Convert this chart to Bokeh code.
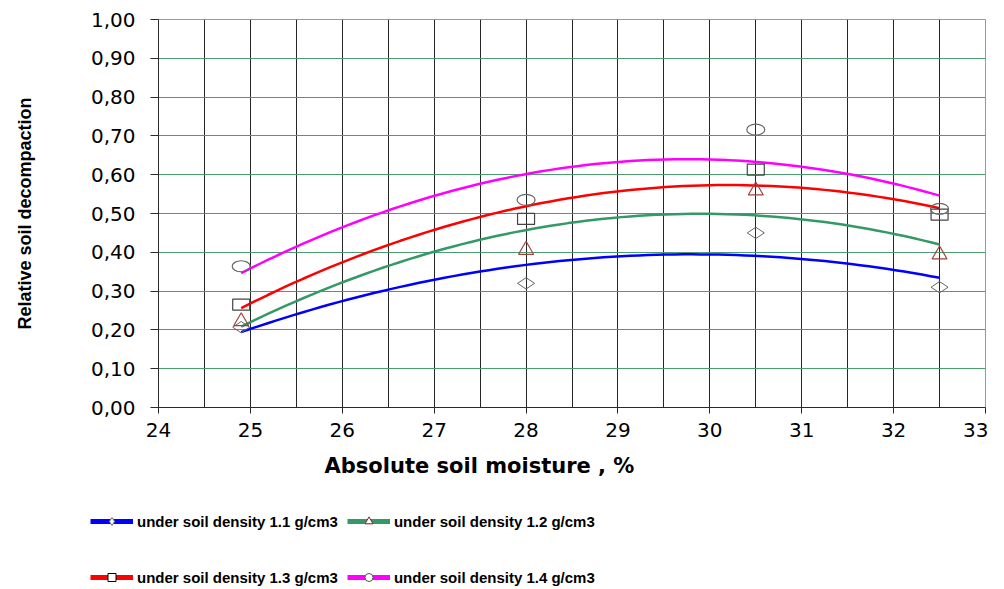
import math
import numpy as np
from bokeh.plotting import figure
from bokeh.layouts import column
from bokeh.models import FixedTicker, Legend, LegendItem, Label, Range1d
from bokeh.embed import file_html
from bokeh.resources import INLINE

# ---------------- data ----------------
moisture = [24.9, 28.0, 30.5, 32.5]
series_labels = [
    "under soil density 1.1 g/cm3",
    "under soil density 1.2 g/cm3",
    "under soil density 1.3 g/cm3",
    "under soil density 1.4 g/cm3",
]
dens_11 = [0.207, 0.320, 0.450, 0.310]
dens_12 = [0.222, 0.406, 0.559, 0.394]
dens_13 = [0.265, 0.486, 0.613, 0.497]
dens_14 = [0.364, 0.535, 0.716, 0.512]

x_ticks = [24, 25, 26, 27, 28, 29, 30, 31, 32, 33]
x_grid = [24.5, 25.0, 25.5, 26.0, 26.5, 27.0, 27.5, 28.0, 28.5, 29.0, 29.5,
          30.0, 30.5, 31.0, 31.5, 32.0, 32.5]
y_ticks = [0.0, 0.1, 0.2, 0.3, 0.4, 0.5, 0.6, 0.7, 0.8, 0.9, 1.0]
y_tick_labels = ["0,00", "0,10", "0,20", "0,30", "0,40", "0,50", "0,60",
                 "0,70", "0,80", "0,90", "1,00"]
y_grid = [0.1, 0.2, 0.3, 0.4, 0.5, 0.6, 0.7, 0.8, 0.9]

line_colors = ["#0000ff", "#339966", "#ff0000", "#ff00ff"]
all_series = [dens_11, dens_12, dens_13, dens_14]

# ---------------- main chart ----------------
p = figure(width=988, height=447, output_backend="svg", toolbar_location=None,
           x_range=Range1d(24, 33), y_range=Range1d(0, 1),
           min_border_left=158, min_border_right=3, min_border_top=19,
           min_border_bottom=40)
p.background_fill_color = "white"
p.border_fill_color = "white"
p.outline_line_color = "#9a9a9a"
p.outline_line_width = 1

p.xgrid.ticker = FixedTicker(ticks=x_grid)
p.xgrid.grid_line_color = "#262626"
p.xgrid.grid_line_width = 1
p.ygrid.ticker = FixedTicker(ticks=y_grid)
p.ygrid.grid_line_color = "#4c9c70"
p.ygrid.grid_line_width = 1

p.xaxis.ticker = FixedTicker(ticks=x_ticks)
p.yaxis.ticker = FixedTicker(ticks=y_ticks)
p.yaxis.major_label_overrides = {t: s for t, s in zip(y_ticks, y_tick_labels)}
for ax in (p.xaxis, p.yaxis):
    ax.axis_line_color = "#2a2a2a"
    ax.axis_line_width = 1
    ax.major_tick_line_color = "#2a2a2a"
    ax.minor_tick_line_color = None
    ax.major_tick_in = 0
    ax.major_label_text_font = "DejaVu Sans"
    ax.major_label_text_font_size = "20px"
    ax.major_label_text_color = "#000000"
p.xaxis.major_tick_out = 6
p.xaxis.major_label_standoff = 9
p.yaxis.major_tick_out = 8
p.yaxis.major_label_standoff = 15

p.yaxis.axis_label = "Relative soil decompaction"
p.yaxis.axis_label_text_font = "Liberation Sans"
p.yaxis.axis_label_text_font_style = "bold"
p.yaxis.axis_label_text_font_size = "18px"
p.yaxis.axis_label_text_color = "#000000"
p.yaxis.axis_label_standoff = 53

# trend curves (quadratic fits of each measured series)
xs_fit = np.linspace(min(moisture), max(moisture), 80)
for vals, col in zip(all_series, line_colors):
    coef = np.polyfit(moisture, vals, 2)
    p.line(xs_fit, np.polyval(coef, xs_fit), line_color=col, line_width=2.5)

# measured points
p.scatter(moisture, dens_11, marker="diamond", size=17, angle=math.pi / 2,
          line_color="#666666", fill_alpha=0, line_width=1)
p.scatter(moisture, dens_12, marker="triangle", size=15,
          line_color="#a5413c", fill_alpha=0, line_width=1.2)
p.rect(moisture, dens_13, width=17, height=11, width_units="screen",
       height_units="screen", line_color="#444444", fill_alpha=0, line_width=1.2)
p.ellipse(moisture, dens_14, width=18, height=11, width_units="screen",
          height_units="screen", line_color="#666666", fill_alpha=0, line_width=1.2)

# ---------------- lower strip: x title + legend ----------------
p2 = figure(width=988, height=140, output_backend="svg", toolbar_location=None,
            x_range=Range1d(0, 1), y_range=Range1d(0, 1),
            x_axis_location=None, y_axis_location=None,
            min_border_left=0, min_border_right=0, min_border_top=0,
            min_border_bottom=0)
p2.frame_align = False
p2.outline_line_color = None
p2.grid.visible = False
p2.background_fill_color = "white"
p2.border_fill_color = "white"

p2.add_layout(Label(x=479, y=122, x_units="screen", y_units="screen",
                    text="Absolute soil moisture , %", text_align="center",
                    text_baseline="middle", text_font="DejaVu Sans",
                    text_font_style="bold", text_font_size="21px",
                    text_color="#000000"))

# legend proxies (one undrawn point each, only so that the legend can draw its swatch)
nan_pt = np.array([np.nan])
leg_markers = ["diamond", "triangle", "square", "circle"]
leg_marker_lines = ["#666666", "#8b2323", "#000000", "#555555"]
items = []
for lab, col, mk, mlc in zip(series_labels, line_colors, leg_markers, leg_marker_lines):
    lr = p2.line(nan_pt, nan_pt, line_color=col, line_width=5)
    sr = p2.scatter(nan_pt, nan_pt, marker=mk, line_color=mlc, fill_color="white",
                    line_width=1)
    items.append(LegendItem(label=lab, renderers=[lr, sr]))

for row, ly in ((items[0:2], 56), (items[2:4], 0)):
    leg = Legend(items=row, location=(90, ly), orientation="horizontal",
                 glyph_width=43, glyph_height=20, label_height=20,
                 label_standoff=4, spacing=9, padding=0, margin=0,
                 border_line_alpha=0, background_fill_alpha=0,
                 label_text_font="Liberation Sans",
                 label_text_font_style="bold", label_text_font_size="15px",
                 label_text_color="#000000")
    p2.add_layout(leg, "center")

layout = column(p, p2, spacing=0)
open("out.html", "w").write(file_html(layout, INLINE))
